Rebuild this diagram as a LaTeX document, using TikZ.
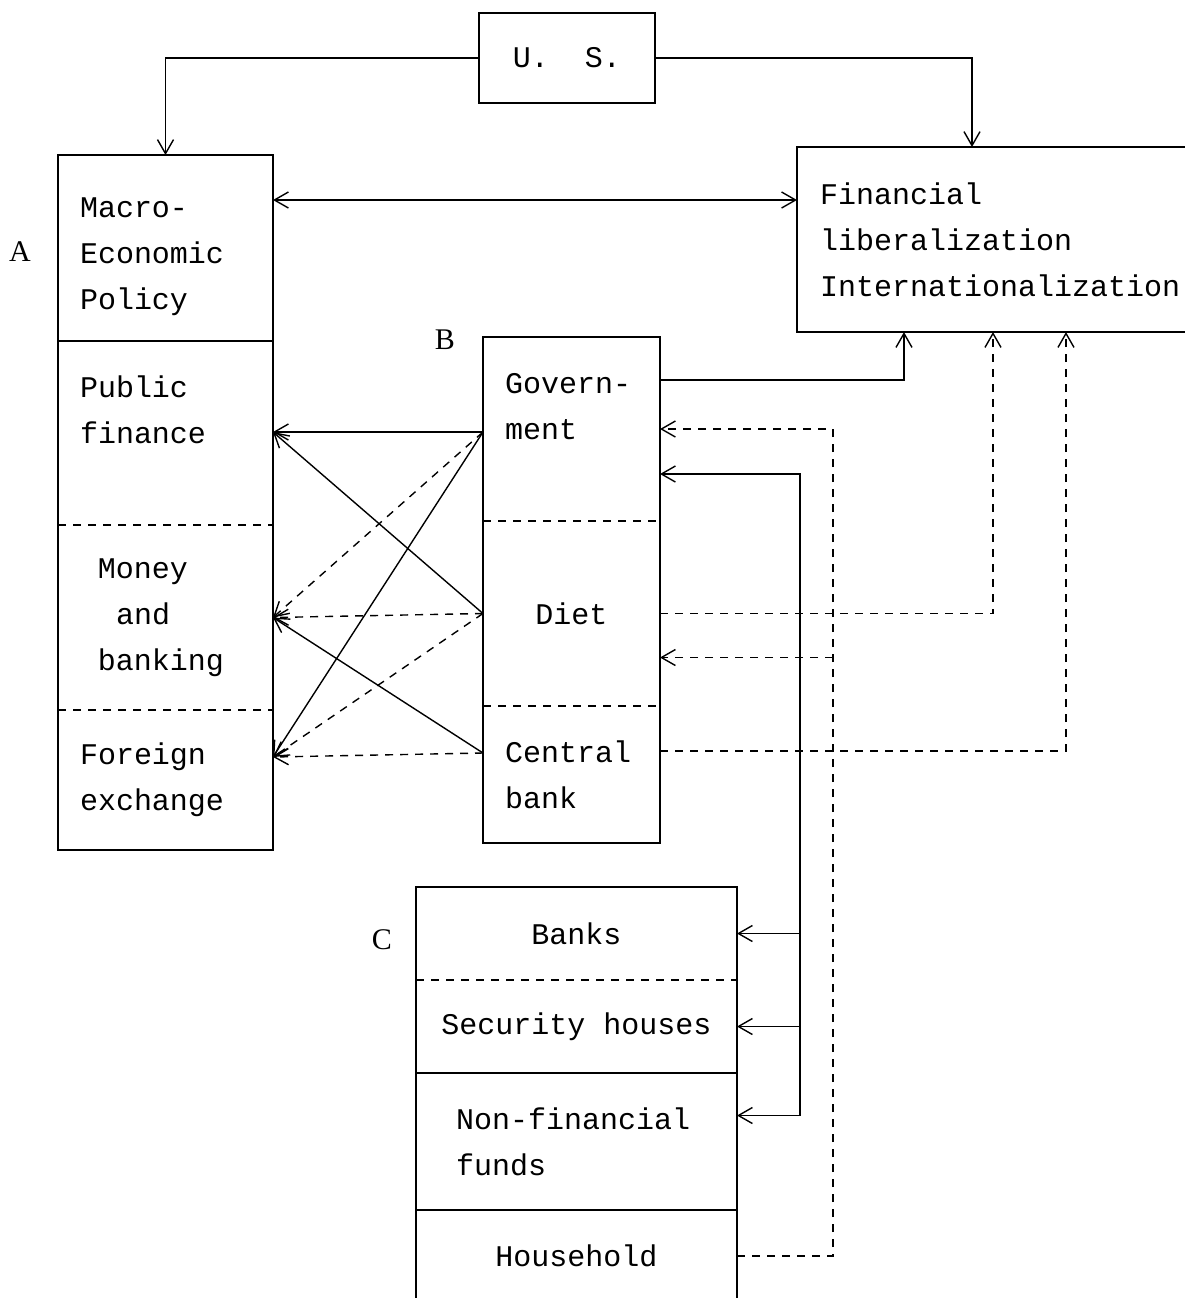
\documentclass[tikz,border=0pt]{standalone}
\usepackage{fontspec}
\setmainfont{Liberation Serif}
\newfontfamily\typefont{Liberation Mono}
\usepackage{tikz}
\usetikzlibrary{arrows.meta,positioning,calc}
\newcommand\onechar{\hspace*{9pt}}

\begin{document}
\begin{tikzpicture}[
    line width=0.7pt,
    part/.style={font=\fontsize{15}{23}\typefont, inner xsep=11pt, inner ysep=0pt, outer sep=0pt},
    tag/.style={font=\fontsize{15}{18}\selectfont, inner sep=0pt},
    dsh/.style={dash pattern=on 4pt off 3.5pt},
    arr/.style={-{Straight Barb[length=7pt,width=8pt]}},
    twoway/.style={{Straight Barb[length=7pt,width=8pt]}-{Straight Barb[length=7pt,width=8pt]}}
]
    \useasboundingbox (0,0) rectangle (592.5pt,-649pt);

    \node [part, draw, anchor=north west, minimum width=88pt, minimum height=45pt, align=center] (us) at (239.5pt,-6.5pt) {U.\onechar\onechar S.};

    \node [part, anchor=north west, text width=85.5pt, minimum height=93pt, align=left] (mep) at (29pt,-77.5pt) {\\[-4pt]Macro-\\Economic\\Policy};
    \node [part, below=0pt of mep, text width=85.5pt, minimum height=92pt, align=left] (pf) {Public\\finance\\\mbox{}};
    \node [part, below=0pt of pf, text width=85.5pt, minimum height=92.5pt, align=left] (mb) {\onechar Money\\\onechar\onechar and\\\onechar banking};
    \node [part, below=0pt of mb, text width=85.5pt, minimum height=70pt, align=left] (fx) {Foreign\\exchange};

    \node [part, anchor=north west, text width=185pt, inner xsep=11.5pt, minimum height=92.5pt, align=left] (fl) at (398.5pt,-73.5pt) {Financial\\liberalization\\Internationalization};

    \node [part, anchor=north west, text width=66.5pt, minimum height=92pt, align=left] (gov) at (241.5pt,-168.5pt) {Govern-\\ment\\\mbox{}};
    \node [part, below=0pt of gov, text width=66.5pt, minimum height=92.5pt, align=center] (diet) {Diet};
    \node [part, below=0pt of diet, text width=66.5pt, minimum height=68.5pt, align=left] (cb) {Central\\bank};

    \node [part, anchor=north west, text width=138.5pt, minimum height=46.5pt, align=center] (banks) at (208pt,-443.5pt) {Banks};
    \node [part, below=0pt of banks, text width=138.5pt, minimum height=46.5pt, align=center] (sh) {Security\onechar houses};
    \node [part, below=0pt of sh, text width=138.5pt, minimum height=68.5pt, align=left] (nff) {\onechar Non-financial\\\onechar funds};
    \node [part, below=0pt of nff, text width=138.5pt, minimum height=46pt, align=center] (hh) {Household};

    \node [tag] (la) at (10pt,-126pt) {A};
    \node [tag] (lb) at (222.5pt,-170pt) {B};
    \node [tag] (lc) at (191pt,-470pt) {C};

    \draw (mep.north west) rectangle (fx.south east);
    \draw (mep.south west) -- (mep.south east);
    \draw [dsh] (pf.south west) -- (pf.south east);
    \draw [dsh] (mb.south west) -- (mb.south east);
    \draw (fl.north east) -- (fl.north west) -- (fl.south west) -- (fl.south east);
    \draw (gov.north west) rectangle (cb.south east);
    \draw [dsh] (gov.south west) -- (gov.south east);
    \draw [dsh] (diet.south west) -- (diet.south east);
    \draw (hh.south west) -- (banks.north west) -- (banks.north east) -- (hh.south east);
    \draw [dsh] (banks.south west) -- (banks.south east);
    \draw (sh.south west) -- (sh.south east);
    \draw (nff.south west) -- (nff.south east);

    \coordinate (ma) at ([yshift=24pt]mep.east);
    \coordinate (ga) at ([yshift=24.5pt]gov.east);
    \coordinate (gb) at ([yshift=-22.5pt]gov.east);
    \coordinate (gw) at ([yshift=-1.5pt]gov.west);
    \coordinate (dl) at ([yshift=-22pt]diet.east);
    \coordinate (ca) at ([yshift=11.75pt]cb.east);
    \coordinate (cw) at ([yshift=10.75pt]cb.west);
    \coordinate (fa) at ([yshift=11.5pt]fx.east);
    \coordinate (na) at ([yshift=13pt]nff.east);
    \coordinate (sv) at ([xshift=31.5pt]banks.east);
    \coordinate (dv) at ([xshift=48pt]hh.east);

    \draw [arr] (us.west) -| (mep.north);
    \draw [arr] (us.east) -| ([xshift=87.5pt]fl.north west);
    \draw [twoway] (ma) -- (ma -| fl.west);

    \draw [arr] (ga) -| ([xshift=53.5pt]fl.south west);
    \draw [arr, dsh] (diet.east) -| ([xshift=98pt]fl.south west);
    \draw [arr, dsh] (ca) -| ([xshift=134.5pt]fl.south west);

    \draw [arr, dsh] (hh.east) -| (dv) |- (gov.east);
    \draw [arr, dsh] (dv |- dl) -- (dl);

    \draw [arr] (na -| sv) |- (gb);
    \draw [arr] (sv) -- (banks.east);
    \draw [arr] (sv |- sh.east) -- (sh.east);
    \draw [arr] (na -| sv) -- (na);

    \draw [arr] (gw) -- (gw -| pf.east);
    \draw [arr] (gw) -- (fa);
    \draw [arr, dsh] (gw) -- (mb.east);
    \draw [arr] (diet.west) -- (gw -| pf.east);
    \draw [arr, dsh] (diet.west) -- (mb.east);
    \draw [arr, dsh] (diet.west) -- (fa);
    \draw [arr] (cw) -- (mb.east);
    \draw [arr, dsh] (cw) -- (fa);
\end{tikzpicture}
\end{document}
